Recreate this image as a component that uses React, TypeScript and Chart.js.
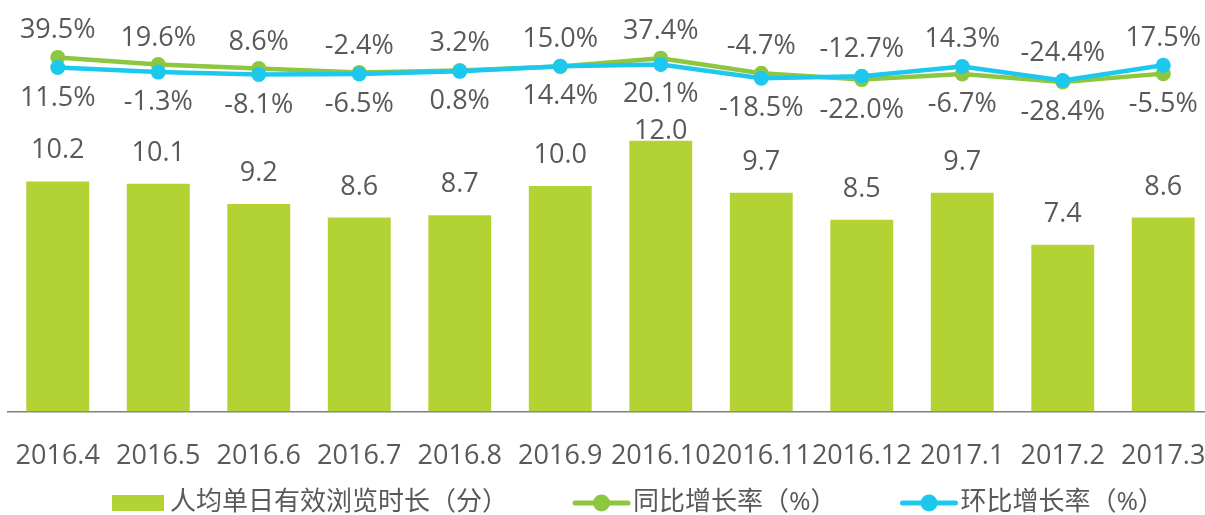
import React, { useEffect, useRef } from 'react';
import { Chart, registerables } from 'chart.js';

Chart.register(...registerables);

const categories = ['2016.4', '2016.5', '2016.6', '2016.7', '2016.8', '2016.9', '2016.10', '2016.11', '2016.12', '2017.1', '2017.2', '2017.3'];
const durationMinutes = [10.2, 10.1, 9.2, 8.6, 8.7, 10.0, 12.0, 9.7, 8.5, 9.7, 7.4, 8.6];
const yoyGrowth = [39.5, 19.6, 8.6, -2.4, 3.2, 14.4, 37.4, -4.7, -22.0, -6.7, -28.4, -5.5];
const momGrowth = [11.5, -1.3, -8.1, -6.5, 0.8, 15.0, 20.1, -18.5, -12.7, 14.3, -24.4, 17.5];
const seriesNames = ['人均单日有效浏览时长（分）', '同比增长率（%）', '环比增长率（%）'];

const FONT = "'Open Sans', 'Noto Sans CJK SC', sans-serif";
const TEXT = '#595959';
const BAR = '#B3D234';
const GREEN = '#8DC63F';
const CYAN = '#1DC8EF';

const labelPlugin = {
  id: 'valueLabels',
  afterDatasetsDraw(chart: any) {
    const ctx = chart.ctx;
    const barMeta = chart.getDatasetMeta(0);
    const yoyMeta = chart.getDatasetMeta(1);
    const momMeta = chart.getDatasetMeta(2);
    const cap = 19;
    ctx.save();
    ctx.font = `27px ${FONT}`;
    ctx.fillStyle = TEXT;
    ctx.textAlign = 'center';
    ctx.textBaseline = 'alphabetic';
    categories.forEach((_, i) => {
      const a = yoyMeta.data[i];
      const b = momMeta.data[i];
      const yv = yoyGrowth[i];
      const mv = momGrowth[i];
      const up = yv >= mv ? { p: a, v: yv } : { p: b, v: mv };
      const lo = yv >= mv ? { p: b, v: mv } : { p: a, v: yv };
      const upBase = up.p.y - 19;
      const loBase = lo.p.y + 19 + cap;
      ctx.fillText(up.v.toFixed(1) + '%', up.p.x, upBase);
      ctx.fillText(lo.v.toFixed(1) + '%', lo.p.x, loBase);
      const bar = barMeta.data[i];
      let base = bar.y - 23;
      if (base - cap < loBase + 6) base = bar.y - 2;
      ctx.fillText(durationMinutes[i].toFixed(1), bar.x, base);
    });
    ctx.restore();
  },
  afterDraw(chart: any) {
    const ctx = chart.ctx;
    ctx.save();
    ctx.font = `26px ${FONT}`;
    ctx.textAlign = 'left';
    ctx.textBaseline = 'middle';
    const y = 503;
    let x = 112;
    ctx.fillStyle = BAR;
    ctx.fillRect(x, y - 8, 52, 16);
    x += 52 + 6;
    ctx.fillStyle = TEXT;
    ctx.fillText(seriesNames[0], x, y);
    x += ctx.measureText(seriesNames[0]).width + 65;
    [[GREEN, seriesNames[1]], [CYAN, seriesNames[2]]].forEach(([color, name]) => {
      ctx.strokeStyle = color;
      ctx.lineWidth = 5;
      ctx.lineCap = 'round';
      ctx.beginPath();
      ctx.moveTo(x + 2, y);
      ctx.lineTo(x + 55, y);
      ctx.stroke();
      ctx.fillStyle = color;
      ctx.beginPath();
      ctx.arc(x + 28.5, y, 8.5, 0, Math.PI * 2);
      ctx.fill();
      x += 57 + 3;
      ctx.fillStyle = TEXT;
      ctx.fillText(name, x, y);
      x += ctx.measureText(name).width + 64;
    });
    ctx.restore();
  },
};

export default function App() {
  const ref = useRef<HTMLCanvasElement>(null);
  useEffect(() => {
    if (!ref.current) return;
    const chart = new Chart(ref.current, {
      type: 'bar',
      data: {
        labels: categories,
        datasets: [
          {
            type: 'bar',
            label: seriesNames[0],
            data: durationMinutes,
            backgroundColor: BAR,
            yAxisID: 'y',
            barPercentage: 0.626,
            categoryPercentage: 1,
            order: 2,
          },
          {
            type: 'line',
            label: seriesNames[1],
            data: yoyGrowth,
            borderColor: GREEN,
            backgroundColor: GREEN,
            pointBackgroundColor: GREEN,
            pointBorderWidth: 0,
            pointRadius: 7.5,
            borderWidth: 4.5,
            tension: 0,
            yAxisID: 'y1',
            order: 1,
          },
          {
            type: 'line',
            label: seriesNames[2],
            data: momGrowth,
            borderColor: CYAN,
            backgroundColor: CYAN,
            pointBackgroundColor: CYAN,
            pointBorderWidth: 0,
            pointRadius: 7.5,
            borderWidth: 4.5,
            tension: 0,
            yAxisID: 'y1',
            order: 0,
          },
        ] as any,
      },
      options: {
        responsive: false,
        animation: false,
        layout: { padding: { top: 10, left: 5, right: 1, bottom: 42 } },
        plugins: { legend: { display: false }, tooltip: { enabled: false } },
        scales: {
          x: {
            grid: { display: false, drawTicks: true, tickLength: 29 },
            border: { display: true, color: '#7F7F7F', width: 1.5 },
            ticks: { color: TEXT, font: { family: FONT, size: 27 }, padding: 0, maxRotation: 0, autoSkip: false },
          },
          y: { display: false, min: 0, max: 17.8 },
          y1: { display: false, min: -943, max: 171 },
        },
      },
      plugins: [labelPlugin],
    });
    return () => chart.destroy();
  }, []);
  return (
    <div style={{ position: 'fixed', left: 0, top: 0, width: 1205, height: 515, overflow: 'hidden', background: '#fff' }}>
      <canvas ref={ref} width={1221} height={515} style={{ display: 'block', width: 1221, height: 515 }} />
    </div>
  );
}
